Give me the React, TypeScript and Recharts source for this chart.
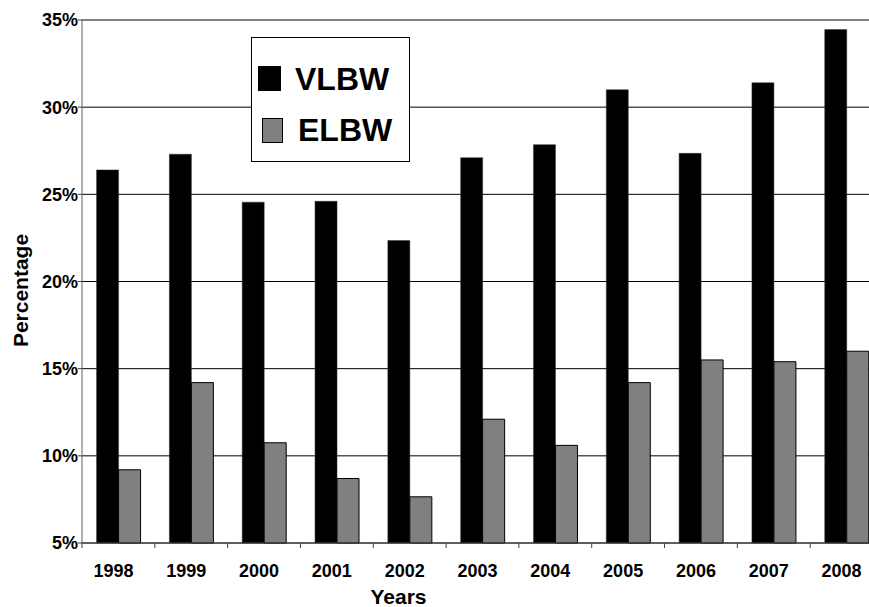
import React from "react";
import { BarChart, Bar, XAxis, YAxis, CartesianGrid, ReferenceLine } from "recharts";

const years = ["1998", "1999", "2000", "2001", "2002", "2003", "2004", "2005", "2006", "2007", "2008"];
const vlbw = [26.4, 27.3, 24.55, 24.6, 22.35, 27.1, 27.85, 31.0, 27.35, 31.4, 34.45];
const elbw = [9.2, 14.2, 10.75, 8.7, 7.65, 12.1, 10.6, 14.2, 15.5, 15.4, 16.0];
const yTicks = [5, 10, 15, 20, 25, 30, 35];
const seriesNames = ["VLBW", "ELBW"];
const seriesColors = ["#000000", "#808080"];

const data = years.map((y, i) => ({ year: y, VLBW: vlbw[i], ELBW: elbw[i] }));

const FONT = '"Liberation Sans", Arial, Helvetica, sans-serif';

const XTick = (props: any) => {
  const { x, y, payload, width, visibleTicksCount } = props;
  const band = width && visibleTicksCount ? width / visibleTicksCount : 72.8;
  return (
    <g>
      <line x1={x - band / 2} x2={x - band / 2} y1={y} y2={y + 5} stroke="#404040" strokeWidth={1} />
      <text x={x - 5} y={y + 33.5} textAnchor="middle" fontFamily={FONT} fontWeight="bold" fontSize={18} fill="#000">
        {payload.value}
      </text>
    </g>
  );
};

const LegendBox = () => (
  <div
    style={{
      position: "absolute",
      left: 251,
      top: 37,
      width: 157,
      height: 123,
      border: "1px solid #000",
      background: "#fff",
      fontFamily: FONT,
      fontWeight: "bold",
      fontSize: 32,
      color: "#000",
    }}
  >
    <div style={{ position: "absolute", left: 6, top: 28, width: 23, height: 25, background: seriesColors[0] }} />
    <div style={{ position: "absolute", left: 43, top: 21, lineHeight: "40px" }}>{seriesNames[0]}</div>
    <div
      style={{
        position: "absolute",
        left: 10,
        top: 80,
        width: 19,
        height: 23,
        background: seriesColors[1],
        border: "1px solid #000",
      }}
    />
    <div style={{ position: "absolute", left: 46, top: 72, lineHeight: "40px" }}>{seriesNames[1]}</div>
  </div>
);

export default function App() {
  return (
    <div style={{ position: "absolute", left: 0, top: 0, width: 869, height: 607, overflow: "hidden", background: "#fff" }}>
      <BarChart
        width={890}
        height={607}
        data={data}
        margin={{ top: 20, right: 7, bottom: 0, left: 0 }}
        barCategoryGap="20%"
        barGap={0}
      >
        <CartesianGrid vertical={false} stroke="#000" strokeWidth={1} />
        <XAxis
          dataKey="year"
          height={64}
          tickLine={false}
          tickSize={0}
          tickMargin={0}
          axisLine={{ stroke: "#404040", strokeWidth: 1 }}
          tick={<XTick />}
          interval={0}
          label={(p: any) => {
            const vb = p.viewBox || { x: 82, y: 543, width: 801, height: 64 };
            return (
              <text
                x={vb.x + vb.width / 2 - 84}
                y={vb.y + 61}
                textAnchor="middle"
                fontFamily={FONT}
                fontWeight="bold"
                fontSize={21}
                fill="#000"
              >
                Years
              </text>
            );
          }}
        />
        <YAxis
          width={82}
          domain={[5, 35]}
          ticks={yTicks}
          interval={0}
          tickFormatter={(v: number) => `${v}%`}
          tickSize={4}
          tickMargin={0}
          tickLine={{ stroke: "#404040" }}
          axisLine={{ stroke: "#606060", strokeWidth: 1 }}
          tick={{ fontFamily: FONT, fontWeight: "bold", fontSize: 18, fill: "#000" }}
          label={(p: any) => {
            const vb = p.viewBox || { x: 0, y: 20, width: 82, height: 523 };
            const cx = vb.x + 20;
            const cy = vb.y + vb.height / 2 + 9;
            return (
              <text
                x={cx}
                y={cy}
                transform={`rotate(-90 ${cx} ${cy})`}
                textAnchor="middle"
                dominantBaseline="central"
                fontFamily={FONT}
                fontWeight="bold"
                fontSize={21}
                fill="#000"
              >
                Percentage
              </text>
            );
          }}
        />
        <ReferenceLine y={35} stroke="#808080" strokeWidth={1} />
        <Bar dataKey="VLBW" name={seriesNames[0]} fill={seriesColors[0]} stroke="#333" strokeWidth={0.5} isAnimationActive={false} />
        <Bar dataKey="ELBW" name={seriesNames[1]} fill={seriesColors[1]} stroke="#000" strokeWidth={1} isAnimationActive={false} />
      </BarChart>
      <LegendBox />
    </div>
  );
}
